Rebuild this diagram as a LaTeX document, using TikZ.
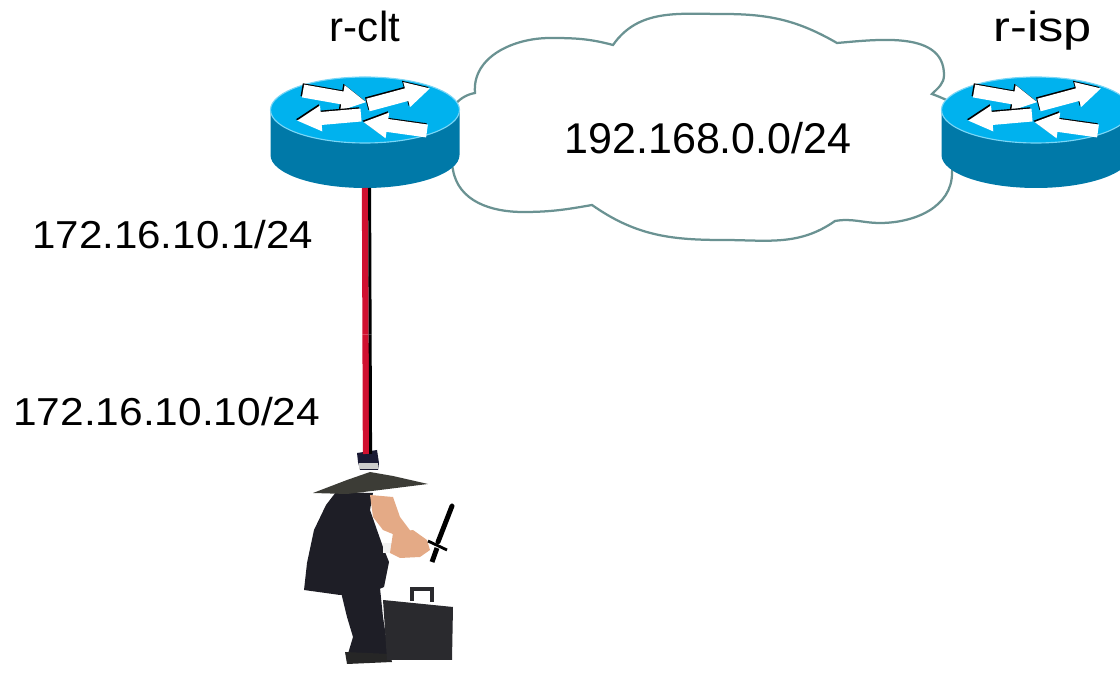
\documentclass[tikz,border=0pt]{standalone}
\usepackage{fontspec}
\setmainfont{Liberation Sans}
\usetikzlibrary{positioning,calc}
\definecolor{routertop}{HTML}{00B2EE}
\definecolor{routerside}{HTML}{0079A8}
\definecolor{routerrim}{HTML}{7AD6F6}
\definecolor{cloudline}{HTML}{6A9292}
\definecolor{cablered}{HTML}{D01030}
\definecolor{coatdark}{HTML}{1E1E26}
\definecolor{hatnavy}{HTML}{1A1A34}
\definecolor{brimgray}{HTML}{3C3C36}
\definecolor{skintone}{HTML}{E4AA86}
\definecolor{casegray}{HTML}{2A2A2E}

\begin{document}
\begin{tikzpicture}[
    x=0.025cm, y=0.025cm,
    namelabel/.style={font=\fontsize{29.9}{34}\selectfont, inner sep=0pt},
    netlabel/.style={font=\fontsize{30.6}{35}\selectfont, inner sep=0pt},
    iplabel/.style={font=\fontsize{27.7}{32}\selectfont, inner sep=0pt},
    cloudshape/.style={draw=cloudline, line width=1.6pt, fill=white},
    redcable/.style={cablered, line width=4.5pt},
    blackcable/.style={black, line width=2.1pt, transform canvas={xshift=0.115cm}},
    routericon/.pic={
        % body and top face
        \fill[routerside] (-94.5,0) -- (-94.5,-45)
            arc[start angle=180, end angle=360, x radius=94.5, y radius=33] -- (94.5,0) -- cycle;
        \filldraw[fill=routertop, draw=routerrim, line width=0.8pt] (0,0) ellipse[x radius=94.5, y radius=33];
        % the four arrows on the top face
        \foreach \ang/\px/\py in {-10/-62/19, 15/3/5, 185/-4/-5, 172/62/-21} {
            \fill[black, shift={(\px-1.3,\py+1.3)}, rotate=\ang]
                (0,-6.5) -- (40,-6.5) -- (40,-13) -- (64,0) -- (40,13) -- (40,6.5) -- (0,6.5) -- cycle;
            \fill[white, shift={(\px,\py)}, rotate=\ang]
                (0,-6.5) -- (40,-6.5) -- (40,-13) -- (64,0) -- (40,13) -- (40,6.5) -- (0,6.5) -- cycle;
        }
        \coordinate (-base) at (0,-78);
    }
]
    \useasboundingbox (0,0) rectangle (1120,672);
    \clip (0,0) rectangle (1120,672);

    % WAN cloud
    \draw[cloudshape] (475,579) to[out=95,in=180] (550,634) to[out=0,in=165] (613,627)
        to[out=55,in=180] (723,658) to[out=0,in=150] (837,629)
        to[out=5,in=90] (944,597) to[out=-90,in=45] (932,578)
        to[out=-20,in=90] (972,538) to[out=-90,in=90] (952,499)
        to[out=-90,in=0] (880,449) to[out=180,in=10] (835,451)
        to[out=-145,in=0] (723,432) to[out=180,in=-35] (592,467)
        to[out=-170,in=0] (523,460) to[out=180,in=-80] (453,502)
        to[out=100,in=-90] (446,540) to[out=90,in=190] (475,579) -- cycle;
    \node[netlabel, anchor=base] (wan) at (708,518) {192.168.0.0/24};

    % routers
    \pic (clt) at (365,562) {routericon};
    \pic (isp) at (1036,562) {routericon};
    \node[namelabel, anchor=base] (cltname) at (365,630) {r-clt};
    \node[namelabel, anchor=base] (ispname) at (1043,630) {\scalebox{1.2}[1]{r-isp}};

    % LAN addresses
    \node[iplabel, anchor=base west] (cltip) at (32,423) {\scalebox{1.08}[1]{172.16.10.1/24}};
    \node[iplabel, anchor=base west] (spyip) at (13,246) {\scalebox{1.09}[1]{172.16.10.10/24}};

    % the intruder
    \begin{scope}[shift={(0,672)}, yscale=-1]
        \coordinate (spyhat) at (366,454);
        % coat and legs
        \fill[coatdark] (340,588) -- (380,588) -- (383,617) -- (387,643) -- (390,657) -- (377,660)
            -- (353,660) -- (347,657) -- (353,637) -- (347,617) -- cycle;
        \fill[coatdark] (336,492) -- (373,493) -- (370,510) -- (377,530) -- (383,547) -- (389,562)
            -- (384,587) -- (370,593) -- (340,595) -- (304,590) -- (307,563) -- (314,530) -- (326,505) -- cycle;
        \fill[black!85] (345,652) -- (390,654) -- (392,662) -- (347,664) -- cycle;
        % face, collar, hands
        \fill[skintone] (370,495) -- (393,497) -- (400,517) -- (412,533) -- (400,537) -- (383,530) -- (373,517) -- cycle;
        \fill[white!90!gray] (383,543) rectangle (393,553);
        \fill[skintone] (393,533) -- (413,530) -- (427,540) -- (430,550) -- (420,557) -- (400,558) -- (390,553) -- cycle;
        % knife
        \draw[black, line width=3.5pt, line cap=round] (452,506) -- (438,542);
        \draw[black, line width=2pt] (428,541) -- (447,550);
        \draw[black, line width=3.5pt] (437,548) -- (432,562);
        % hat
        \fill[brimgray] (313,493) -- (347,480) -- (370,472) -- (393,476) -- (428,484) -- (380,490) -- (347,494) -- cycle;
        \fill[hatnavy] (357,453) -- (377,450) -- (379,463) -- (378,470) -- (360,470) -- (358,462) -- cycle;
        \fill[gray!40] (359,463) rectangle (378,469);
        % briefcase
        \draw[casegray, line width=2.2pt] (412,601) -- (412,589) -- (432,589) -- (432,602);
        \fill[casegray] (383,600) -- (453,607) -- (452,660) -- (387,660) -- cycle;
    \end{scope}

    % access link
    \coordinate (joint) at ($(clt-base)!0.55!(spyhat)$);
    \draw[redcable] (clt-base) -- (joint);
    \draw[redcable] (joint) -- (spyhat);
    \draw[blackcable] (clt-base) -- (joint);
    \draw[blackcable] (joint) -- (spyhat);
\end{tikzpicture}
\end{document}
